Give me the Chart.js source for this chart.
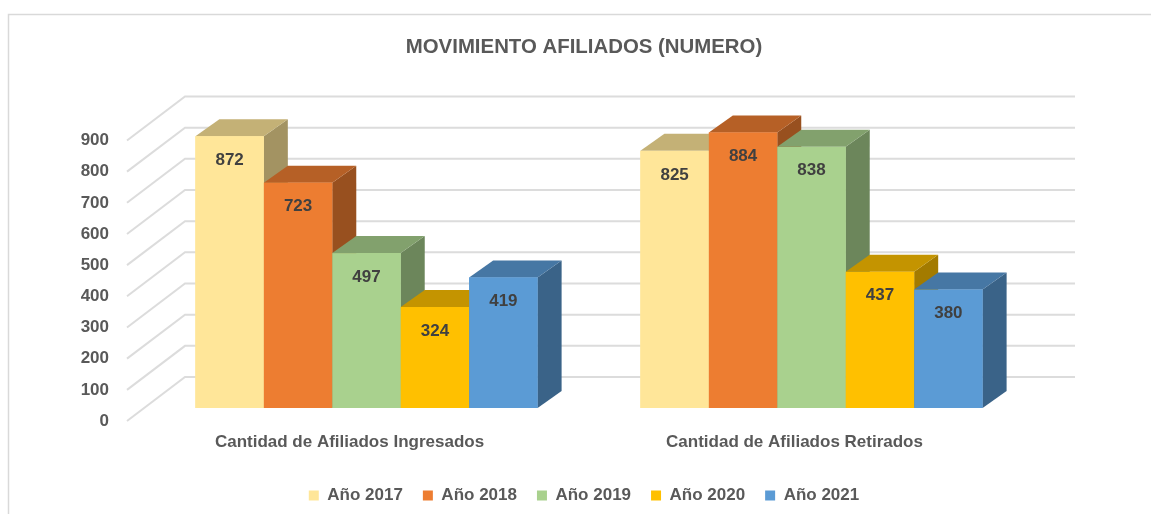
<!DOCTYPE html>
<html>
<head>
<meta charset="utf-8">
<script src="https://cdn.jsdelivr.net/npm/chart.js@4/dist/chart.umd.min.js"></script>
<style>
  html, body { margin: 0; padding: 0; background: #fff; }
  #wrap { width: 1151px; height: 514px; }
</style>
</head>
<body>
<div id="wrap"><canvas id="barChart" width="1151" height="514"></canvas></div>
<script>
const categories = ['Cantidad de Afiliados Ingresados', 'Cantidad de Afiliados Retirados'];
const years = ['Año 2017', 'Año 2018', 'Año 2019', 'Año 2020', 'Año 2021'];
const values2017 = [872, 825];
const values2018 = [723, 884];
const values2019 = [497, 838];
const values2020 = [324, 437];
const values2021 = [419, 380];
const yTicks = [0, 100, 200, 300, 400, 500, 600, 700, 800, 900];

const colors = ['#FFE699', '#ED7D31', '#A9D18E', '#FFC000', '#5B9BD5'];
const FONT = '"Liberation Sans", Arial, sans-serif';
const GREY = '#595959';

// 3d look: bar depth and back wall offset (px)
const DEPTH_X = 24, DEPTH_Y = -17;
const WALL_X = 41, WALL_Y = -31;
const FRONT_X = -17, FRONT_Y = 13;

function shade(hex, f) {
    const n = parseInt(hex.slice(1), 16);
    const r = Math.round(((n >> 16) & 255) * f);
    const g = Math.round(((n >> 8) & 255) * f);
    const b = Math.round((n & 255) * f);
    return `rgb(${r}, ${g}, ${b})`;
}

const frame = {
    id: 'frame',
    beforeDraw(chart) {
        const c = chart.ctx;
        c.save();
        c.fillStyle = '#fff';
        c.fillRect(0, 0, chart.width, chart.height);
        c.strokeStyle = '#D9D9D9';
        c.lineWidth = 1.5;
        c.beginPath();
        c.moveTo(8.5, chart.height);
        c.lineTo(8.5, 14.5);
        c.lineTo(chart.width, 14.5);
        c.stroke();
        c.restore();
    }
};

// perspective gridlines + tick labels at the front edge of the floor
const wallGrid = {
    id: 'wallGrid',
    beforeDatasetsDraw(chart) {
        const c = chart.ctx;
        const y = chart.scales.y;
        const area = chart.chartArea;
        c.save();
        c.strokeStyle = '#DCDCDC';
        c.lineWidth = 2;
        c.fillStyle = GREY;
        c.font = 'bold 17px ' + FONT;
        c.textAlign = 'right';
        c.textBaseline = 'middle';
        yTicks.forEach(v => {
            const py = y.getPixelForValue(v);
            c.beginPath();
            c.moveTo(area.left + FRONT_X, py + FRONT_Y);
            c.lineTo(area.left + WALL_X, py + WALL_Y);
            c.lineTo(area.right + WALL_X, py + WALL_Y);
            c.stroke();
            c.fillText(String(v), area.left - 35, py + FRONT_Y);
        });
        c.restore();
    }
};

const bars3d = {
    id: 'bars3d',
    afterDatasetsDraw(chart) {
        const c = chart.ctx;
        const list = [];
        chart.data.datasets.forEach((ds, di) => {
            chart.getDatasetMeta(di).data.forEach((bar, i) => {
                list.push({ bar, color: ds.backgroundColor, value: ds.data[i] });
            });
        });
        list.sort((a, b) => a.bar.x - b.bar.x);
        c.save();
        list.forEach(({ bar, color }) => {
            const l = bar.x - bar.width / 2, r = bar.x + bar.width / 2;
            const t = bar.y, b = bar.base;
            // side
            c.fillStyle = shade(color, 0.64);
            c.beginPath();
            c.moveTo(r, b);
            c.lineTo(r, t);
            c.lineTo(r + DEPTH_X, t + DEPTH_Y);
            c.lineTo(r + DEPTH_X, b + DEPTH_Y);
            c.closePath();
            c.fill();
            // top
            c.fillStyle = shade(color, 0.77);
            c.beginPath();
            c.moveTo(l, t);
            c.lineTo(r, t);
            c.lineTo(r + DEPTH_X, t + DEPTH_Y);
            c.lineTo(l + DEPTH_X, t + DEPTH_Y);
            c.closePath();
            c.fill();
            // front
            c.fillStyle = color;
            c.fillRect(l, t, r - l, b - t);
        });
        // value labels
        c.fillStyle = '#404040';
        c.font = 'bold 17px ' + FONT;
        c.textAlign = 'center';
        c.textBaseline = 'middle';
        list.forEach(({ bar, value }) => {
            c.fillText(String(value), bar.x, bar.y + 24);
        });
        c.restore();
    }
};

const seriesValues = [values2017, values2018, values2019, values2020, values2021];

new Chart(document.getElementById('barChart').getContext('2d'), {
    type: 'bar',
    data: {
        labels: categories,
        datasets: years.map((name, i) => ({
            label: name,
            data: seriesValues[i],
            backgroundColor: colors[i],
            borderWidth: 0,
            barPercentage: 1,
            categoryPercentage: 0.769
        }))
    },
    options: {
        responsive: false,
        animation: false,
        layout: { padding: { left: 134, right: 117, top: 0, bottom: 0 } },
        scales: {
            y: {
                min: 0,
                max: 900,
                grid: { display: false, drawTicks: false },
                border: { display: false },
                afterFit(s) { s.width = 10; },
                ticks: { display: false, stepSize: 100 }
            },
            x: {
                grid: { display: false, drawTicks: false },
                border: { display: false },
                afterFit(s) { s.height = 59; },
                ticks: {
                    padding: 24,
                    labelOffset: -17,
                    maxRotation: 0,
                    color: GREY,
                    font: { family: FONT, size: 17, weight: 'bold' }
                }
            }
        },
        plugins: {
            title: {
                display: true,
                text: 'MOVIMIENTO AFILIADOS (NUMERO)',
                color: GREY,
                font: { family: FONT, size: 20.4, weight: 'bold' },
                padding: { top: 35, bottom: 68 }
            },
            legend: {
                position: 'bottom',
                labels: {
                    boxWidth: 10,
                    boxHeight: 10,
                    padding: 20,
                    color: GREY,
                    font: { family: FONT, size: 17, weight: 'bold' }
                }
            },
            tooltip: { enabled: false }
        }
    },
    plugins: [frame, wallGrid, bars3d]
});
</script>
</body>
</html>
